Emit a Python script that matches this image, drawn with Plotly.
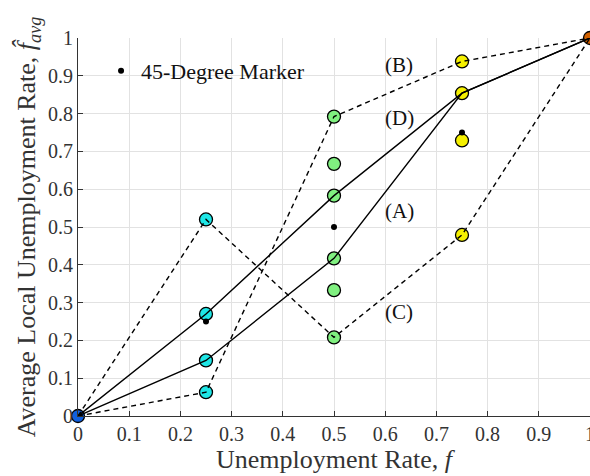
import plotly.graph_objects as go

# Data
f_vals = [0, 0.25, 0.5, 0.75, 1]
line_A = [0, 0.147, 0.417, 0.854, 1]
line_D = [0, 0.27, 0.583, 0.854, 1]
line_B = [0, 0.063, 0.792, 0.938, 1]
line_C = [0, 0.52, 0.208, 0.479, 1]

cyan_x = [0.25, 0.25, 0.25, 0.25]
cyan_y = [0.52, 0.27, 0.147, 0.063]
green_x = [0.5] * 6
green_y = [0.792, 0.667, 0.583, 0.417, 0.333, 0.208]
yellow_x = [0.75] * 4
yellow_y = [0.938, 0.854, 0.729, 0.479]
diag_x = [0.25, 0.5, 0.75]
diag_y = [0.25, 0.5, 0.75]

labels = ["(B)", "(D)", "(A)", "(C)"]
label_x = [0.627, 0.627, 0.627, 0.627]
label_y = [0.929, 0.788, 0.542, 0.276]

tick_vals = [0, 0.1, 0.2, 0.3, 0.4, 0.5, 0.6, 0.7, 0.8, 0.9, 1]
tick_text = ["0", "0.1", "0.2", "0.3", "0.4", "0.5", "0.6", "0.7", "0.8", "0.9", "1"]

FONT = "Liberation Serif, Times New Roman, serif"

fig = go.Figure()

def pts(x, y, color, size=13):
    fig.add_trace(go.Scatter(x=x, y=y, mode="markers", showlegend=False,
                             marker=dict(size=size, color=color,
                                         line=dict(color="black", width=1.3)),
                             cliponaxis=False))

pts(cyan_x, cyan_y, "#1ee6e6")
pts(green_x, green_y, "#80f080")
pts(yellow_x, yellow_y, "#f5f000")
pts([0], [0], "#1060e0")
pts([1], [1], "#d06000")

fig.add_trace(go.Scatter(x=diag_x, y=diag_y, mode="markers", name="45-Degree Marker",
                         marker=dict(size=6, color="black")))

for ys, dash in [(line_A, "solid"), (line_D, "solid"), (line_B, "5px,4px"), (line_C, "5px,4px")]:
    fig.add_trace(go.Scatter(x=f_vals, y=ys, mode="lines", showlegend=False,
                             line=dict(color="black", width=1.4, dash=dash),
                             cliponaxis=False))

for t, x, y in zip(labels, label_x, label_y):
    fig.add_annotation(x=x, y=y, text=t, showarrow=False,
                       font=dict(family=FONT, size=21, color="#111"))

fig.update_layout(
    width=590, height=476,
    margin=dict(l=78, r=0, t=38, b=60),
    plot_bgcolor="white", paper_bgcolor="white",
    font=dict(family=FONT, color="#222"),
    legend=dict(x=0.045, y=0.913, xanchor="left", yanchor="middle",
                bgcolor="rgba(0,0,0,0)", font=dict(family=FONT, size=22, color="#111"),
                itemwidth=30),
    xaxis=dict(range=[0, 1], tickvals=tick_vals, ticktext=tick_text,
               showgrid=True, gridcolor="#e2e2e2", gridwidth=1,
               showline=True, linecolor="#333", linewidth=1,
               ticks="inside", ticklen=5, tickcolor="#333",
               ticklabeloverflow="allow", automargin=False,
               zeroline=False, tickfont=dict(size=20, family=FONT, color="#333"),
               title=dict(text="Unemployment Rate, <i>f</i>", standoff=3,
                          font=dict(size=26, family=FONT, color="#333"))),
    yaxis=dict(range=[0, 1], tickvals=tick_vals, ticktext=tick_text,
               showgrid=True, gridcolor="#e2e2e2", gridwidth=1,
               showline=True, linecolor="#333", linewidth=1,
               ticks="inside", ticklen=5, tickcolor="#333",
               ticklabeloverflow="allow", automargin=False,
               zeroline=False, tickfont=dict(size=20, family=FONT, color="#333"),
               title=dict(text="Average Local Unemployment Rate, <i>f̂</i><sub><i>avg</i></sub>",
                          standoff=4, font=dict(size=26, family=FONT, color="#333"))),
)

fig.write_html("out.html")
